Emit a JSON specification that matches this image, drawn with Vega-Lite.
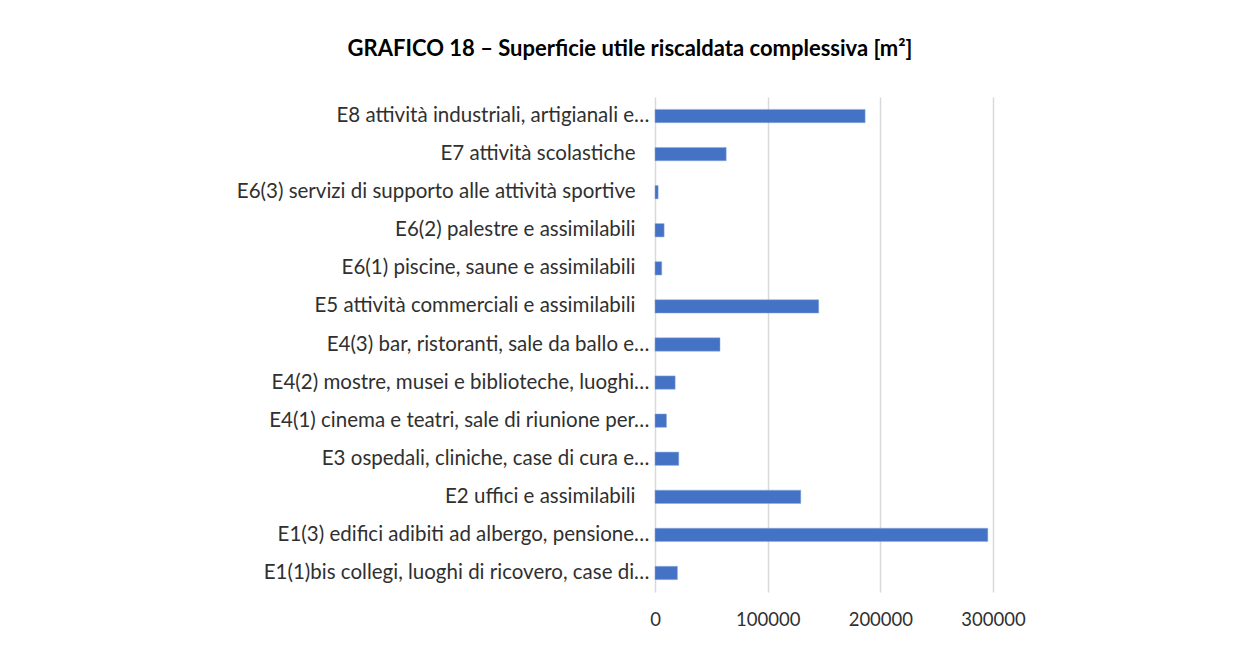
{
  "$schema": "https://vega.github.io/schema/vega-lite/v6.json",
  "width": 338,
  "height": 495,
  "autosize": {"type": "none"},
  "padding": {"left": 655, "top": 97, "right": 253, "bottom": 56},
  "background": "white",
  "title": {
    "text": "GRAFICO 18 – Superficie utile riscaldata complessiva [m²]",
    "font": "Lato",
    "fontSize": 22,
    "fontWeight": "bold",
    "color": "#000000",
    "anchor": "middle",
    "frame": "group",
    "dx": -194,
    "offset": 36
  },
  "data": {
    "values": [
      {"cat": "E8 attività industriali, artigianali e…", "val": 186500},
      {"cat": "E7 attività scolastiche", "val": 63200},
      {"cat": "E6(3) servizi di supporto alle attività sportive", "val": 2800},
      {"cat": "E6(2) palestre e assimilabili", "val": 8100},
      {"cat": "E6(1) piscine, saune e assimilabili", "val": 6000},
      {"cat": "E5 attività commerciali e assimilabili", "val": 145300},
      {"cat": "E4(3) bar, ristoranti, sale da ballo e…", "val": 57700},
      {"cat": "E4(2) mostre, musei e biblioteche, luoghi…", "val": 17900},
      {"cat": "E4(1) cinema e teatri, sale di riunione per…", "val": 10200},
      {"cat": "E3 ospedali, cliniche, case di cura e…", "val": 21100},
      {"cat": "E2 uffici e assimilabili", "val": 129400},
      {"cat": "E1(3) edifici adibiti ad albergo, pensione…", "val": 295400},
      {"cat": "E1(1)bis collegi, luoghi di ricovero, case di…", "val": 19900}
    ]
  },
  "mark": {"type": "bar", "color": "#4472C4", "stroke": "#8faadc", "strokeWidth": 0.5},
  "encoding": {
    "y": {
      "field": "cat",
      "type": "nominal",
      "sort": null,
      "scale": {"paddingInner": 0.65, "paddingOuter": 0.325},
      "axis": {
        "title": null,
        "ticks": false,
        "domain": false,
        "labelFont": "Lato",
        "labelFontSize": 20.5,
        "labelColor": "#303030",
        "labelPadding": {"condition": {"test": "indexof(datum.label, '…') >= 0", "value": 6}, "value": 20},
        "labelLimit": 0
      }
    },
    "x": {
      "field": "val",
      "type": "quantitative",
      "scale": {"domain": [0, 300000], "nice": false},
      "axis": {
        "title": null,
        "values": [0, 100000, 200000, 300000],
        "format": "d",
        "ticks": false,
        "domain": false,
        "grid": true,
        "gridColor": "#d9d9d9",
        "gridWidth": 1.5,
        "labelFont": "Lato",
        "labelFontSize": 18.5,
        "labelColor": "#303030",
        "labelPadding": 18,
        "labelFlush": false
      }
    }
  },
  "config": {"view": {"stroke": null}}
}
